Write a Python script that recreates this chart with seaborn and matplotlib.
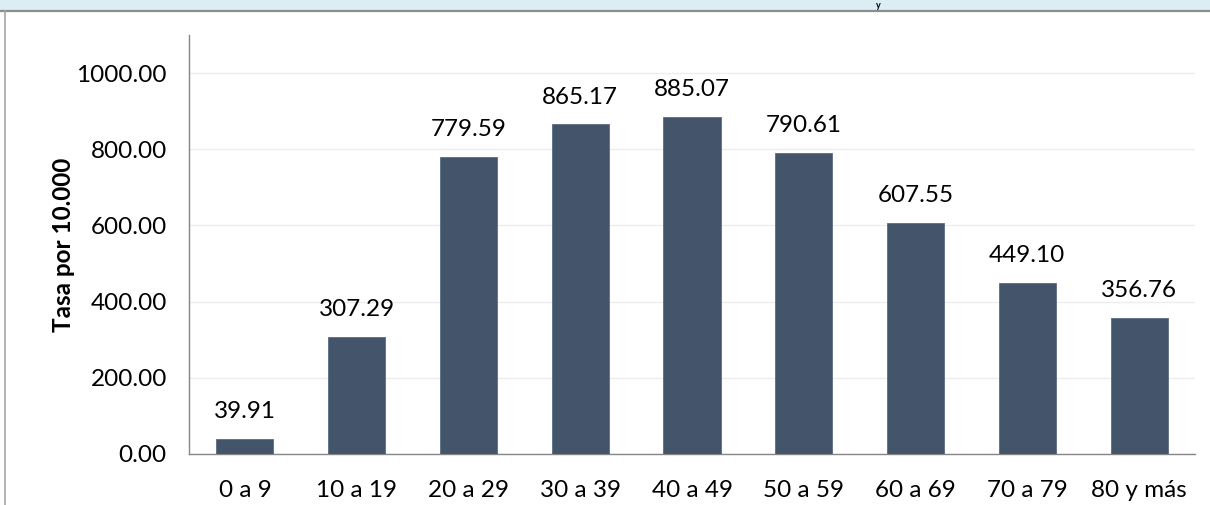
import numpy as np
import pandas as pd
import seaborn as sns
import matplotlib.pyplot as plt
from matplotlib.patches import Rectangle
from matplotlib.lines import Line2D

# data
grupos = ["0 a 9", "10 a 19", "20 a 29", "30 a 39", "40 a 49",
          "50 a 59", "60 a 69", "70 a 79", "80 y más"]
tasas = [39.91, 307.29, 779.59, 865.17, 885.07, 790.61, 607.55, 449.10, 356.76]
y_ticks = [0, 200, 400, 600, 800, 1000]

sns.set_style("white")
plt.rcParams['font.family'] = ['Lato', 'DejaVu Sans']
plt.rcParams['text.color'] = 'black'
plt.rcParams['axes.labelcolor'] = 'black'
plt.rcParams['xtick.labelcolor'] = 'black'
plt.rcParams['ytick.labelcolor'] = 'black'

df = pd.DataFrame({"grupo": grupos, "tasa": tasas})

fig = plt.figure(figsize=(12.10, 5.05), dpi=100)
W, H = 1210, 505
fs = 17.5

# light blue band + frame at the top like the source screenshot
fig.patches.append(Rectangle((0, 1 - 10 / H), 1, 10 / H, transform=fig.transFigure,
                             facecolor="#DAEEF3", edgecolor="none", zorder=0))
fig.lines.append(Line2D([0, 1], [1 - 10.5 / H, 1 - 10.5 / H], transform=fig.transFigure,
                        color="#8C8C8C", lw=1.6))
fig.lines.append(Line2D([4.5 / W, 4.5 / W], [0, 1 - 10.5 / H], transform=fig.transFigure,
                        color="#A6A6A6", lw=1.2))
# remnant of the title, mostly hidden above the picture
fig.text(878 / W, 1 - 5 / H, "y", fontsize=6.5, fontweight="bold",
         ha="center", va="center", color="black")

ax = fig.add_axes([189 / W, 1 - 454 / H, (1195 - 189) / W, (454 - 35) / H])
sns.barplot(data=df, x="grupo", y="tasa", color="#44546A", width=0.51,
            edgecolor="#5B6B80", linewidth=0.6, saturation=1, ax=ax, zorder=3)

ax.set_xlim(-0.5, len(grupos) - 0.5)
ax.set_ylim(0, 1100)
ax.set_yticks(y_ticks)
ax.set_yticklabels([f"{v:.2f}" for v in y_ticks], fontsize=fs)
ax.yaxis.grid(True, color="#EDEDED", lw=1, zorder=0)
ax.set_axisbelow(True)

# x ticks at category boundaries, labels at centers
ax.set_xticks(np.arange(len(grupos) + 1) - 0.5)
ax.set_xticklabels([])
ax.set_xticks(np.arange(len(grupos)), minor=True)
ax.set_xticklabels(grupos, minor=True, fontsize=fs)
ax.tick_params(axis="x", which="major", length=6, width=1, color="#868686", direction="out")
ax.tick_params(axis="x", which="minor", length=0, pad=19, labelcolor="black")
ax.tick_params(axis="y", length=4, width=1, color="#868686", pad=12, direction="out",
               labelcolor="black")

for side in ["top", "right"]:
    ax.spines[side].set_visible(False)
for side in ["left", "bottom"]:
    ax.spines[side].set_color("#868686")
    ax.spines[side].set_linewidth(1)

ax.bar_label(ax.containers[0], labels=[f"{v:.2f}" for v in tasas],
             padding=12, fontsize=fs, color="black")

ax.set_xlabel("")
ax.set_ylabel("Tasa por 10.000", fontsize=fs, fontweight="bold", labelpad=1,
              color="black")

fig.savefig("out.png", dpi=100)
